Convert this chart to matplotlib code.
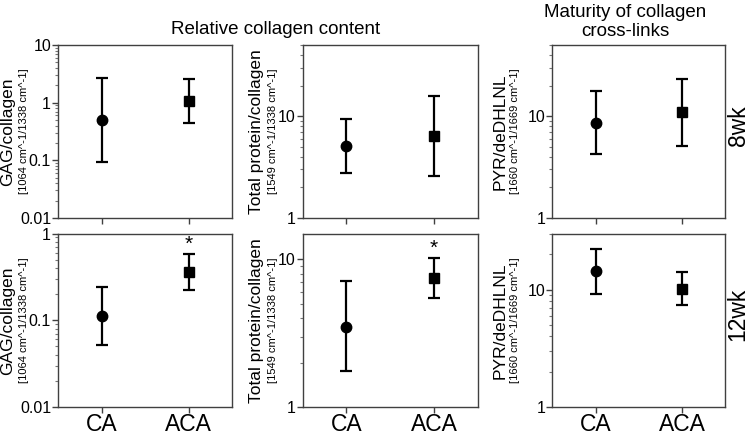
import numpy as np
import matplotlib
matplotlib.use('Agg')
import matplotlib.pyplot as plt
from matplotlib.ticker import LogLocator, NullFormatter

plt.rcParams['font.family'] = ['Liberation Sans', 'DejaVu Sans']

groups = ['CA', 'ACA']
xpos = np.arange(len(groups))

# mean, lower end, upper end of the error bars
gag_8wk = [0.50, 1.05]
gag_8wk_lo = [0.093, 0.44]
gag_8wk_hi = [2.72, 2.55]
tp_8wk = [5.07, 6.36]
tp_8wk_lo = [2.75, 2.59]
tp_8wk_hi = [9.34, 15.7]
pyr_8wk = [8.6, 10.9]
pyr_8wk_lo = [4.26, 5.07]
pyr_8wk_hi = [17.5, 23.1]

gag_12wk = [0.112, 0.361]
gag_12wk_lo = [0.0515, 0.222]
gag_12wk_hi = [0.243, 0.582]
tp_12wk = [3.51, 7.49]
tp_12wk_lo = [1.75, 5.44]
tp_12wk_hi = [7.11, 10.3]
pyr_12wk = [14.3, 10.2]
pyr_12wk_lo = [9.25, 7.33]
pyr_12wk_hi = [22.0, 14.2]

sig_gag_12wk = [False, True]
sig_tp_12wk = [False, True]

ylabels = ['GAG/collagen', 'Total protein/collagen', 'PYR/deDHLNL']
units = ['[1064 cm^-1/1338 cm^-1]', '[1549 cm^-1/1338 cm^-1]', '[1660 cm^-1/1669 cm^-1]']
ylims_8 = [(0.01, 10), (1, 50), (1, 50)]
ylims_12 = [(0.01, 1), (1, 15), (1, 30)]
yticks_8 = [[0.01, 0.1, 1, 10], [1, 10], [1, 10]]
yticks_12 = [[0.01, 0.1, 1], [1, 10], [1, 10]]
ytick_labels = {0.01: '0.01', 0.1: '0.1', 1: '1', 10: '10'}

W, H = 748, 436
fig = plt.figure(figsize=(W / 100, H / 100), dpi=100)

col_left = [58, 302.7, 552.3]
col_w = [174, 175, 173]
row_top = [45, 233.5]
row_h = [173, 173.5]
lab_x = [8, 256.5, 500]
unit_x = [24, 272.5, 515]

rows = [
    [(gag_8wk, gag_8wk_lo, gag_8wk_hi, None), (tp_8wk, tp_8wk_lo, tp_8wk_hi, None), (pyr_8wk, pyr_8wk_lo, pyr_8wk_hi, None)],
    [(gag_12wk, gag_12wk_lo, gag_12wk_hi, sig_gag_12wk), (tp_12wk, tp_12wk_lo, tp_12wk_hi, sig_tp_12wk), (pyr_12wk, pyr_12wk_lo, pyr_12wk_hi, None)],
]
lims = [ylims_8, ylims_12]
ticks = [yticks_8, yticks_12]
markers = ['o', 's']
frame = '#404040'

for r in range(2):
    for c in range(3):
        x0 = col_left[c] / W
        y0 = 1 - (row_top[r] + row_h[r]) / H
        ax = fig.add_axes([x0, y0, col_w[c] / W, row_h[r] / H])
        mean, lo, hi, sig = rows[r][c]
        mean = np.array(mean)
        err = [mean - np.array(lo), np.array(hi) - mean]
        for i in range(len(groups)):
            ax.errorbar(xpos[i], mean[i], yerr=[[err[0][i]], [err[1][i]]],
                        fmt=markers[i], color='black', ms=7.5, elinewidth=1.6,
                        capsize=4, capthick=1.6)
            if sig is not None and sig[i]:
                ax.annotate('*', (xpos[i], hi[i]), xytext=(0, 0), textcoords='offset points',
                            ha='center', va='bottom', fontsize=15)
        ax.set_yscale('log')
        ax.set_ylim(*lims[r][c])
        ax.set_xlim(-0.5, 1.5)
        ax.set_yticks(ticks[r][c])
        ax.set_yticklabels([ytick_labels[t] for t in ticks[r][c]])
        ax.yaxis.set_minor_locator(LogLocator(base=10, subs=np.arange(2, 10)))
        ax.yaxis.set_minor_formatter(NullFormatter())
        ax.set_xticks(xpos)
        if r == 1:
            ax.set_xticklabels(groups, fontsize=16.5)
        else:
            ax.set_xticklabels([])
        for sp in ax.spines.values():
            sp.set_color(frame)
            sp.set_linewidth(1.0)
        ax.tick_params(axis='y', which='major', length=4, width=1, color=frame, labelsize=11.5, pad=1)
        ax.tick_params(axis='y', which='minor', length=2.5, width=0.8, color='#777777')
        ax.tick_params(axis='x', length=4, width=1, color=frame, pad=0)

        yc = 1 - (row_top[r] + row_h[r] / 2) / H
        fig.text(lab_x[c] / W, yc, ylabels[c], rotation=90, ha='center', va='center', fontsize=12.5)
        fig.text(unit_x[c] / W, yc, units[c], rotation=90, ha='center', va='center', fontsize=8)

fig.text(275.5 / W, 1 - 30 / H, 'Relative collagen content', ha='center', va='center', fontsize=13.5)
fig.text(625 / W, 1 - 22 / H, 'Maturity of collagen\ncross-links', ha='center', va='center',
         fontsize=13.5, linespacing=1.1)
fig.text(738 / W, 1 - 126 / H, '8wk', rotation=90, ha='center', va='center', fontsize=16.5)
fig.text(738 / W, 1 - 314 / H, '12wk', rotation=90, ha='center', va='center', fontsize=16.5)

fig.savefig('out.png', dpi=100)
